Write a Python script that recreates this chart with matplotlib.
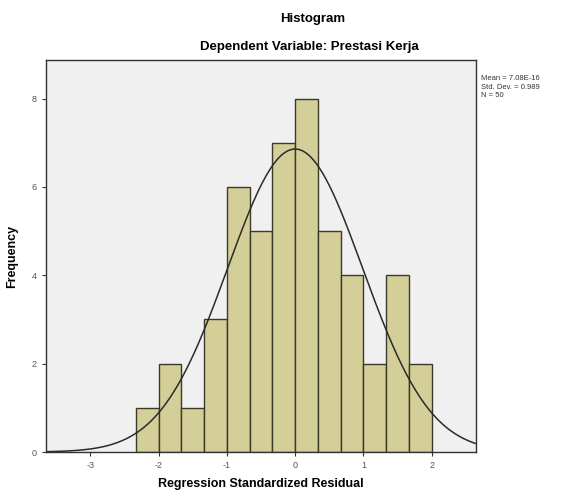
import matplotlib.pyplot as plt
import numpy as np

plt.rcParams['font.family'] = ['Liberation Sans', 'DejaVu Sans']
plt.rcParams['axes.unicode_minus'] = False

# histogram data (SPSS regression residual output)
bin_kiri = -7 / 3
lebar_bin = 1 / 3
frekuensi = [1, 2, 1, 3, 6, 5, 7, 8, 5, 4, 2, 4, 2]
rata = 7.08e-16
std_dev = 0.989
n = 50

x_ticks = [-3, -2, -1, 0, 1, 2]
y_ticks = [0, 2, 4, 6, 8]

fig = plt.figure(figsize=(5.71, 5.01), dpi=100)
ax = fig.add_axes([0.0806, 0.0978, 0.7530, 0.7822])
ax.set_facecolor('#f0f0f0')

tepi = bin_kiri + lebar_bin * np.arange(len(frekuensi))
ax.bar(tepi, frekuensi, width=lebar_bin, align='edge',
       color='#d4cf98', edgecolor='#3a3a2a', linewidth=1.0)

# kurva normal
xs = np.linspace(-3.7, 2.7, 400)
skala = n * lebar_bin * 1.02
ys = skala / (std_dev * np.sqrt(2 * np.pi)) * np.exp(-0.5 * ((xs - rata) / std_dev) ** 2)
ax.plot(xs, ys, color='#2b2b2b', linewidth=1.1)

ax.set_xlim(-3.65, 2.65)
ax.set_ylim(0, 8.87)
ax.set_xticks(x_ticks)
ax.set_yticks(y_ticks)
ax.tick_params(labelsize=6.5, labelcolor='#555555', length=3, color='#333333')
for s in ax.spines.values():
    s.set_color('#333333')
    s.set_linewidth(1.0)

ax.set_xlabel('Regression Standardized Residual', fontsize=9, fontweight='bold', labelpad=6)
ax.set_ylabel('Frequency', fontsize=9, fontweight='bold', labelpad=10)

fig.text(0.548, 0.963, 'Histogram', ha='center', va='center', fontsize=9.5, fontweight='bold')
fig.text(0.542, 0.907, 'Dependent Variable: Prestasi Kerja', ha='center', va='center',
         fontsize=9.5, fontweight='bold')

fig.text(0.842, 0.826, 'Mean = 7.08E-16\nStd. Dev. = 0.989\nN = 50', ha='left', va='center',
         fontsize=5.5, color='#333333', linespacing=1.25)

fig.savefig('out.png', dpi=100)
